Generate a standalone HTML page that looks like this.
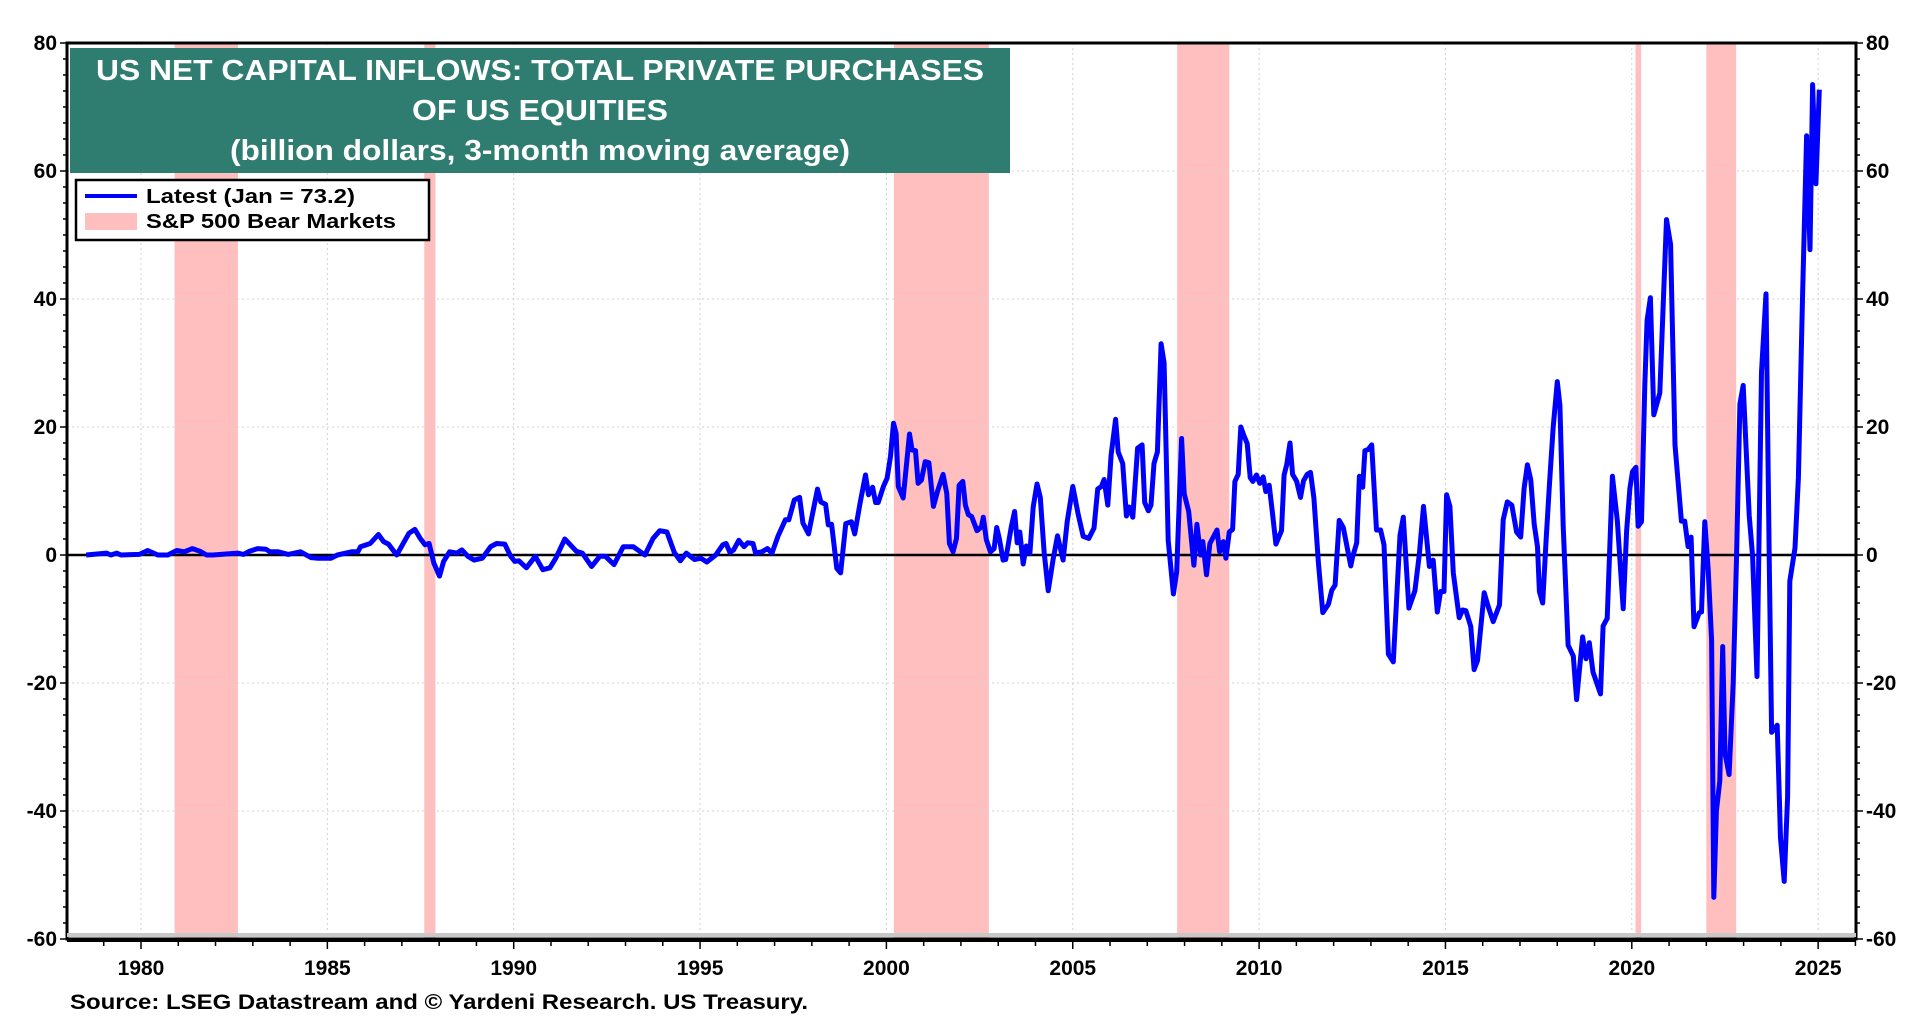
<!DOCTYPE html>
<html><head><meta charset="utf-8"><style>
html,body{margin:0;padding:0;background:#fff;}
svg{display:block;font-family:"Liberation Sans",Arial,sans-serif;font-weight:bold;}
</style></head><body>
<svg id="chart" width="1920" height="1020" viewBox="0 0 1920 1020"></svg>
<script>
const dates=[1978.53,1979.08,1979.19,1979.35,1979.46,1979.96,1980.18,1980.45,1980.72,1980.96,1981.16,1981.38,1981.58,1981.76,1981.93,1982.59,1982.75,1982.91,1983.13,1983.35,1983.46,1983.68,1983.95,1984.28,1984.56,1984.72,1985.1,1985.27,1985.65,1985.82,1985.89,1986.15,1986.37,1986.51,1986.64,1986.86,1987.19,1987.35,1987.49,1987.62,1987.73,1987.86,1988.01,1988.12,1988.28,1988.48,1988.61,1988.77,1988.94,1989.16,1989.38,1989.54,1989.76,1989.92,1990.03,1990.14,1990.34,1990.58,1990.78,1990.97,1991.13,1991.37,1991.68,1991.84,1992.09,1992.31,1992.46,1992.69,1992.94,1993.21,1993.52,1993.74,1993.92,1994.11,1994.31,1994.47,1994.63,1994.85,1995.02,1995.18,
1995.42,1995.61,1995.7,1995.8,1995.9,1996.04,1996.18,1996.28,1996.42,1996.49,1996.66,1996.81,1996.93,1997.09,1997.29,1997.38,1997.53,1997.67,1997.76,1997.91,1998.15,1998.24,1998.37,1998.44,1998.53,1998.67,1998.77,1998.91,1999.06,1999.15,1999.3,1999.44,1999.52,1999.63,1999.71,1999.78,1999.92,2000.02,2000.11,2000.19,2000.26,2000.32,2000.45,2000.62,2000.69,2000.78,2000.85,2000.94,2001.04,2001.14,2001.26,2001.38,2001.52,2001.62,2001.69,2001.79,2001.88,2001.95,2002.05,2002.12,2002.2,2002.29,2002.43,2002.55,2002.6,2002.68,2002.79,2002.89,2002.96,2003.03,2003.13,2003.2,2003.35,2003.44,2003.51,2003.58,2003.67,2003.75,2003.85,2003.94,2004.04,2004.13,2004.23,2004.34,2004.47,2004.59,2004.74,2004.85,2005.0,2005.14,2005.28,2005.43,2005.57,2005.67,2005.77,2005.84,2005.94,2006.03,2006.15,2006.22,2006.34,2006.44,2006.51,2006.61,2006.74,2006.86,2006.93,2007.03,2007.1,2007.18,2007.27,2007.37,2007.45,2007.56,2007.7,2007.79,2007.92,2007.99,2008.11,2008.25,2008.33,2008.43,2008.49,2008.59,2008.68,2008.87,2008.94,2009.04,2009.11,2009.2,2009.29,2009.35,2009.44,
2009.51,2009.59,2009.68,2009.76,2009.83,2009.93,2010.02,2010.11,2010.18,2010.27,2010.36,2010.45,2010.6,2010.67,2010.74,2010.83,2010.9,2011.01,2011.11,2011.19,2011.29,2011.38,2011.47,2011.59,2011.71,2011.86,2011.95,2012.04,2012.15,2012.26,2012.37,2012.46,2012.51,2012.62,2012.69,2012.78,2012.84,2012.93,2013.02,2013.15,2013.26,2013.35,2013.47,2013.6,2013.78,2013.87,2014.02,2014.18,2014.3,2014.41,2014.57,2014.67,2014.78,2014.87,2014.96,2015.03,2015.12,2015.21,2015.37,2015.46,2015.55,2015.68,2015.77,2015.86,2016.04,2016.15,2016.28,2016.45,2016.55,2016.66,2016.78,2016.91,2017.02,2017.11,2017.2,2017.29,2017.38,2017.47,2017.52,2017.61,2017.7,2017.79,2017.89,2018.0,2018.07,2018.16,2018.29,2018.43,2018.52,2018.68,2018.77,2018.86,2018.96,2019.16,2019.23,2019.34,2019.48,2019.61,2019.77,2019.86,2019.95,2020.02,2020.11,2020.17,2020.26,2020.35,2020.41,2020.5,2020.59,2020.75,2020.93,2021.04,2021.16,2021.27,2021.33,2021.42,2021.51,2021.59,2021.67,2021.81,2021.87,2021.96,2022.05,2022.14,2022.2,2022.27,2022.36,2022.44,2022.5,2022.61,2022.72,2022.81,2022.9,2022.99,2023.15,2023.24,2023.36,2023.48,2023.6,2023.69,2023.75,2023.9,2023.99,2024.09,2024.18,2024.24,2024.38,2024.47,2024.58,2024.69,2024.78,2024.85,2024.94,2025.03];
const values=[0,0.3,0,0.3,0,0.1,0.7,0,0,0.7,0.5,1.0,0.6,0,0,0.3,0.1,0.6,1.0,0.9,0.5,0.5,0.1,0.5,-0.4,-0.5,-0.5,0,0.5,0.5,1.3,1.8,3.2,2.1,1.7,0,3.4,4.0,2.6,1.6,1.8,-1.3,-3.3,-1.0,0.5,0.3,0.8,-0.2,-0.8,-0.5,1.3,1.8,1.7,-0.2,-1.0,-0.9,-2.0,-0.2,-2.3,-2.0,-0.5,2.5,0.6,0.3,-1.8,-0.2,-0.2,-1.5,1.3,1.3,0,2.6,3.8,3.6,0.4,-0.9,0.3,-0.7,-0.5,-1.1,
0,1.6,1.8,0.4,0.8,2.3,1.3,1.9,1.8,0.3,0.5,1.0,0.3,2.9,5.5,5.5,8.6,9.0,5.0,3.3,10.3,8.3,7.9,4.7,4.8,-2.1,-2.8,4.9,5.2,3.3,8.3,12.5,9.4,10.6,8.2,8.2,10.7,12.0,15.4,20.6,19.0,10.7,8.9,18.9,16.4,16.3,11.2,11.7,14.6,14.4,7.6,10.1,12.6,9.6,1.8,0.5,2.6,10.9,11.5,7.8,6.3,6.0,3.8,4.4,5.9,2.4,0.5,1.0,4.3,2.6,-0.8,-0.7,4.4,6.8,1.9,3.6,-1.4,1.4,0.3,7.5,11.1,9.0,0.5,-5.6,-0.8,3.0,-0.8,5.2,10.7,6.5,2.9,2.6,4.2,10.3,10.7,11.8,7.8,15.6,21.2,16.1,14.3,6.1,7.5,5.9,16.7,17.2,8.2,6.9,7.8,14.3,16.1,33.0,30.0,2.3,-6.1,-2.6,18.2,9.6,6.8,-1.6,4.8,0,2.1,-3.1,1.8,3.9,0.5,2.1,-0.5,3.6,4.0,11.5,12.6,
20.0,18.7,17.4,12.1,11.5,12.5,11.2,12.2,9.9,10.9,6.5,1.7,3.8,12.5,14.1,17.5,12.6,11.5,9.0,11.6,12.6,12.9,8.9,-1.2,-9.0,-7.7,-5.5,-4.7,5.4,4.3,1.0,-1.7,-0.3,1.9,12.3,10.6,16.3,16.5,17.2,3.9,3.9,1.6,-15.5,-16.7,3.1,5.9,-8.3,-5.6,0.2,7.6,-1.8,-0.8,-8.9,-5.7,-5.7,9.4,7.6,-2.8,-9.8,-8.6,-8.7,-11.2,-17.9,-16.5,-5.9,-8.1,-10.4,-7.8,5.5,8.3,7.8,3.6,2.8,10.4,14.1,11.7,4.8,1.3,-5.7,-7.5,2.3,10.9,20.0,27.1,23.4,4.5,-14.1,-15.8,-22.6,-12.8,-16.2,-13.7,-18.3,-21.7,-11.1,-9.9,12.3,5.4,-8.4,3.7,10.4,13.0,13.7,4.5,5.2,26.5,36.7,40.2,21.9,25.3,52.4,48.5,17.2,9.6,5.3,5.3,1.3,2.8,-11.2,-9.0,-8.9,5.2,-2.3,-13.3,-53.5,-40.0,-35.3,-14.3,-31.0,-34.3,-20.0,-0.6,23.6,26.5,6.2,-0.2,-19.0,28.6,40.8,-1.4,-27.7,-26.6,-44.2,-51.0,-37.8,-4.1,1.1,12.1,40.1,65.5,47.7,73.5,58.0,72.7];
const bearStart=[1980.9,1987.6,2000.2,2007.8,2020.1,2022.0];
const bearEnd=[1982.6,1987.9,2002.75,2009.2,2020.25,2022.8];
const yTicks=[80,60,40,20,0,-20,-40,-60];
const xTicks=[1980,1985,1990,1995,2000,2005,2010,2015,2020,2025];

const NS="http://www.w3.org/2000/svg";
const svg=document.getElementById('chart');
const L=67,R=1856,T=43,B=939;
const X0=1980,PX=37.27,X0px=141;
function xs(y){return X0px+(y-X0)*PX;}
function ys(v){return T+(80-v)*(B-T)/140;}
function mk(tag,attrs,parent){const e=document.createElementNS(NS,tag);for(const k in attrs)e.setAttribute(k,attrs[k]);(parent||svg).appendChild(e);return e;}

const gb=mk('g',{});


for(let i=0;i<bearStart.length;i++){
  const r=mk('rect',{x:xs(bearStart[i]),y:T,width:xs(bearEnd[i])-xs(bearStart[i]),height:B-T,fill:'#ffbfbf'},gb);
  
  
}
const gg=mk('g',{stroke:'#d0d0d0','stroke-width':1,'stroke-dasharray':'2,3'});


xTicks.forEach(t=>{mk('line',{x1:xs(t),x2:xs(t),y1:T,y2:B},gg);});
yTicks.forEach(t=>{if(t!==0&&t!==80&&t!==-60)mk('line',{x1:L,x2:R,y1:ys(t),y2:ys(t)},gg);});
const z=mk('line',{x1:L,x2:R,y1:ys(0),y2:ys(0),stroke:'#000','stroke-width':2.5});


let d='';
for(let i=0;i<dates.length;i++){d+=(i?'L':'M')+xs(dates[i]).toFixed(1)+','+ys(values[i]).toFixed(1);}
const p=mk('path',{d:d,fill:'none',stroke:'#0000ff','stroke-width':5,'stroke-linejoin':'round'});


const fr=mk('rect',{x:L,y:T,width:R-L,height:B-T,fill:'none',stroke:'#000','stroke-width':3});


mk('line',{x1:L,x2:R,y1:B-4,y2:B-4,stroke:'#c8c8c8','stroke-width':4});
mk('line',{x1:L,x2:R,y1:B+1,y2:B+1,stroke:'#000','stroke-width':4});
const gy=mk('g',{'font-size':21,fill:'#000'});


for(let v=-60;v<=80;v+=2.5){
  const len=(v%20===0)?7:4;
  mk('line',{x1:L-len,x2:L,y1:ys(v),y2:ys(v),stroke:'#000','stroke-width':1.5},gy);
  mk('line',{x1:R,x2:R+len,y1:ys(v),y2:ys(v),stroke:'#000','stroke-width':1.5},gy);
}
yTicks.forEach(t=>{
  const a=mk('text',{x:L-10,y:ys(t)+7,'text-anchor':'end'},gy);a.textContent=t;
  
  
  const b=mk('text',{x:R+10,y:ys(t)+7,'text-anchor':'start'},gy);b.textContent=t;
  
  
});
const gx=mk('g',{'font-size':21,fill:'#000'});


for(let y=1978;y<=2026;y++){
  if(xs(y)<L||xs(y)>R)continue;
  mk('line',{x1:xs(y),x2:xs(y),y1:B+2,y2:B+(y%5===0?10:7),stroke:'#000','stroke-width':1.5},gx);
}
xTicks.forEach(t=>{
  const a=mk('text',{x:xs(t),y:975,'text-anchor':'middle'},gx);a.textContent=t;
  
  
});
</script>
<svg style="position:absolute;left:0;top:0" width="1920" height="1020">
  <g>
    <rect x="70" y="48" width="940" height="125" fill="#2e7d70"/>
    <text x="540" y="80" text-anchor="middle" font-size="29" fill="#fff" textLength="888" lengthAdjust="spacingAndGlyphs" font-family="Liberation Sans, sans-serif" font-weight="bold">US NET CAPITAL INFLOWS: TOTAL PRIVATE PURCHASES</text>
    <text x="540" y="120" text-anchor="middle" font-size="29" fill="#fff" textLength="256" lengthAdjust="spacingAndGlyphs" font-family="Liberation Sans, sans-serif" font-weight="bold">OF US EQUITIES</text>
    <text x="540" y="160" text-anchor="middle" font-size="29" fill="#fff" textLength="620" lengthAdjust="spacingAndGlyphs" font-family="Liberation Sans, sans-serif" font-weight="bold">(billion dollars, 3-month moving average)</text>
  </g>
  <g font-family="Liberation Sans, sans-serif" font-weight="bold">
    <rect x="76" y="180" width="353" height="60" fill="#fff" stroke="#000" stroke-width="2.5"/>
    <line x1="85" y1="196" x2="137" y2="196" stroke="#0000ff" stroke-width="4"/>
    <text x="146" y="203" font-size="20" textLength="209" lengthAdjust="spacingAndGlyphs">Latest (Jan = 73.2)</text>
    <rect x="85" y="213" width="52" height="17" fill="#ffbfbf"/>
    <text x="146" y="228" font-size="20" textLength="250" lengthAdjust="spacingAndGlyphs">S&amp;P 500 Bear Markets</text>
  </g>
  <text x="70" y="1009" font-size="21" font-family="Liberation Sans, sans-serif" font-weight="bold" textLength="738" lengthAdjust="spacingAndGlyphs">Source: LSEG Datastream and © Yardeni Research. US Treasury.</text>
</svg>
</body></html>
